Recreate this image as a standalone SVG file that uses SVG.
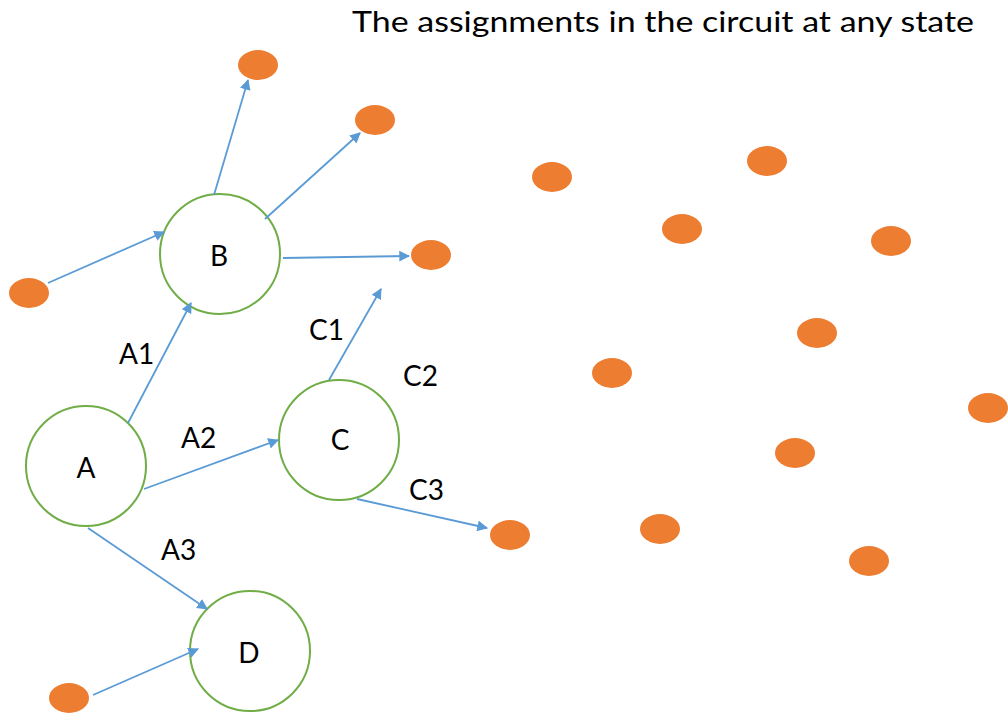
<svg xmlns="http://www.w3.org/2000/svg" width="1008" height="715" viewBox="0 0 1008 715">
<style>
.node{fill:#fff;stroke:#70AD47;stroke-width:2}
.dot{fill:#ED7D31}
.edge{stroke:#5B9BD5;stroke-width:1.8;fill:none;marker-end:url(#arr)}
.lbl{font-family:Lato,"Liberation Sans",sans-serif;font-size:28px;fill:#000}
.nl{font-family:Lato,"Liberation Sans",sans-serif;font-size:28px;fill:#000;text-anchor:middle}
</style>
<defs>
<marker id="arr" viewBox="0 0 10 10" refX="9" refY="5" markerWidth="6" markerHeight="6" markerUnits="strokeWidth" orient="auto">
<path d="M0,0 L10,5 L0,10 z" fill="#5B9BD5"/>
</marker>
</defs>
<rect width="1008" height="715" fill="#fff"/>
<text x="352" y="32" class="lbl" textLength="622" lengthAdjust="spacingAndGlyphs" style="font-size:29px">The assignments in the circuit at any state</text>
<g id="node-A"><circle class="node" cx="86" cy="466" r="60"/><text class="nl" x="86" y="478">A</text></g>
<g id="node-B"><circle class="node" cx="220" cy="254" r="60"/><text class="nl" x="219" y="266">B</text></g>
<g id="node-C"><circle class="node" cx="339" cy="440" r="60"/><text class="nl" x="340" y="450">C</text></g>
<g id="node-D"><circle class="node" cx="250" cy="651" r="60"/><text class="nl" x="249" y="663">D</text></g>
<g id="dots">
<ellipse class="dot" cx="258" cy="65" rx="20" ry="15"/>
<ellipse class="dot" cx="375" cy="120" rx="20" ry="15"/>
<ellipse class="dot" cx="431" cy="255" rx="20" ry="15"/>
<ellipse class="dot" cx="29" cy="293" rx="20" ry="15"/>
<ellipse class="dot" cx="69" cy="698" rx="20" ry="15"/>
<ellipse class="dot" cx="510" cy="535" rx="20" ry="15"/>
<ellipse class="dot" cx="552" cy="177" rx="20" ry="15"/>
<ellipse class="dot" cx="767" cy="161" rx="20" ry="15"/>
<ellipse class="dot" cx="682" cy="229" rx="20" ry="15"/>
<ellipse class="dot" cx="891" cy="241" rx="20" ry="15"/>
<ellipse class="dot" cx="817" cy="333" rx="20" ry="15"/>
<ellipse class="dot" cx="612" cy="373" rx="20" ry="15"/>
<ellipse class="dot" cx="988" cy="408" rx="20" ry="15"/>
<ellipse class="dot" cx="795" cy="453" rx="20" ry="15"/>
<ellipse class="dot" cx="660" cy="529" rx="20" ry="15"/>
<ellipse class="dot" cx="869" cy="561" rx="20" ry="15"/>
</g>
<g id="connectors">
<line class="edge" x1="48" y1="283" x2="164" y2="232"/>
<line class="edge" x1="214" y1="195" x2="248" y2="80"/>
<line class="edge" x1="265" y1="219" x2="360" y2="133"/>
<line class="edge" x1="283" y1="258" x2="409" y2="256"/>
<line class="edge" x1="329" y1="380" x2="381" y2="289"/>
<line class="edge" x1="128" y1="423" x2="191" y2="303"/>
<line class="edge" x1="144" y1="489" x2="278" y2="440"/>
<line class="edge" x1="88" y1="528" x2="207" y2="609"/>
<line class="edge" x1="357" y1="499" x2="487" y2="528"/>
<line class="edge" x1="93" y1="695" x2="198" y2="649"/>
<text class="lbl" x="119" y="364">A1</text>
<text class="lbl" x="181" y="448">A2</text>
<text class="lbl" x="161" y="560">A3</text>
<text class="lbl" x="309" y="340">C1</text>
<text class="lbl" x="403" y="386">C2</text>
<text class="lbl" x="409" y="500">C3</text>
</g>
</svg>
